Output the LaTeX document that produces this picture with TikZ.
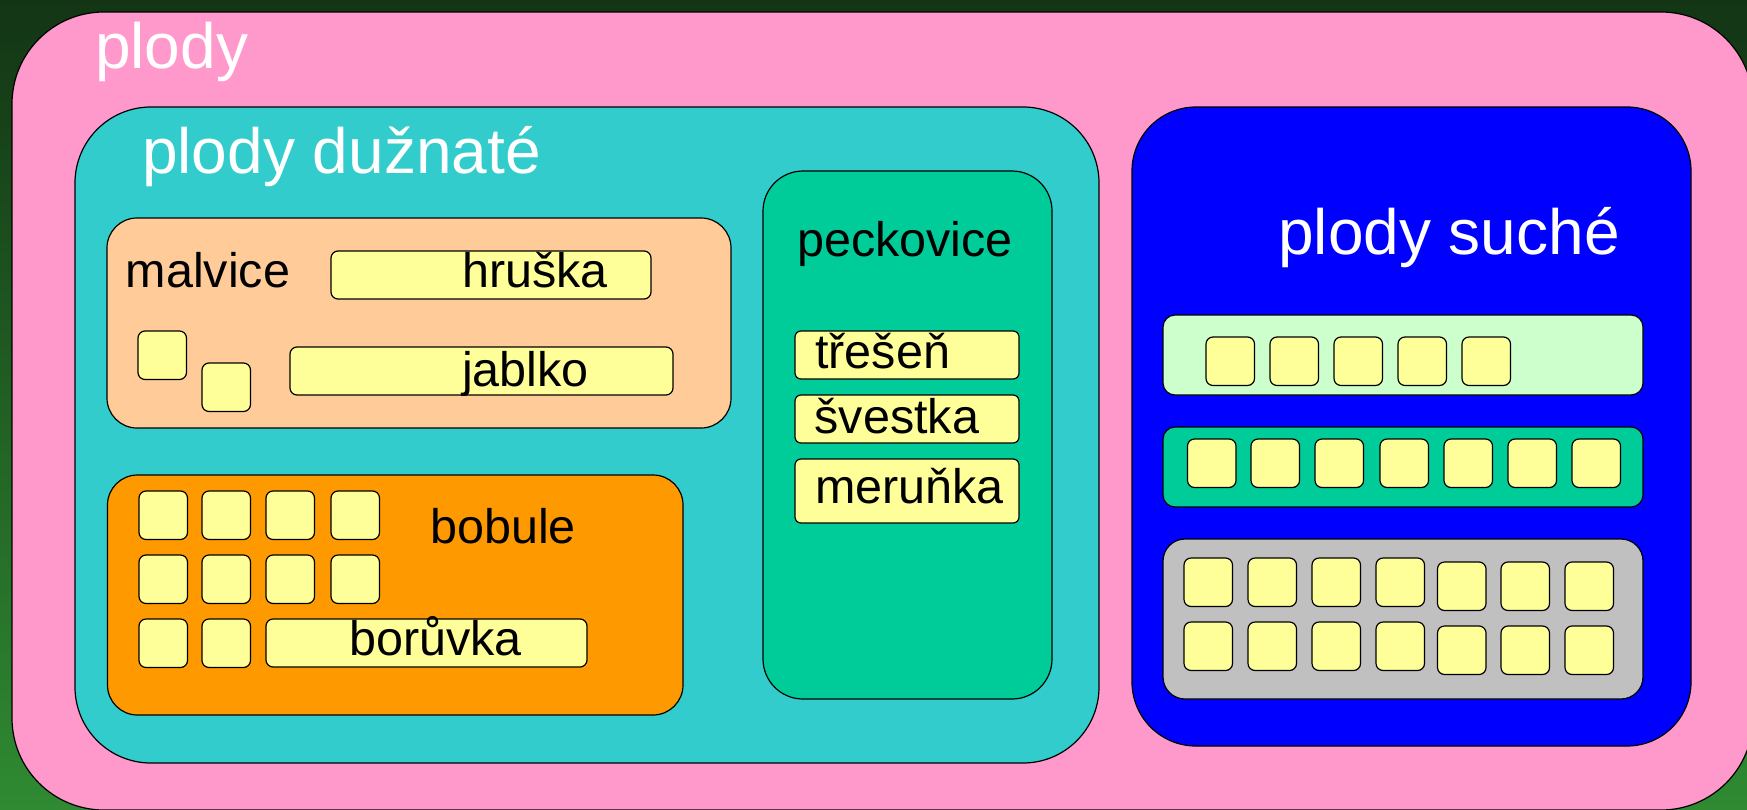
\documentclass[tikz,border=0pt]{standalone}
\usepackage{fontspec}
\setmainfont{Liberation Sans}

% palette
\definecolor{bgtop}{HTML}{133515}
\definecolor{bgbottom}{HTML}{2F8A32}
\definecolor{pinkfill}{HTML}{FF99CC}
\definecolor{tealfill}{HTML}{33CCCC}
\definecolor{bluefill}{HTML}{0000FF}
\definecolor{peachfill}{HTML}{FFCC99}
\definecolor{orangefill}{HTML}{FF9900}
\definecolor{stonefill}{HTML}{00CC99}
\definecolor{mintfill}{HTML}{CCFFCC}
\definecolor{grayfill}{HTML}{C0C0C0}
\definecolor{tilefill}{HTML}{FFFF99}

\begin{document}
\begin{tikzpicture}[x=1pt,y=-1pt,
  place/.style n args={4}{anchor=north west, at={(#1,#2)},
    minimum width=#3pt, minimum height=#4pt, inner sep=0pt, outer sep=0pt},
  panel/.style={draw=black, line width=1.2pt},
  tile/.style={panel, fill=tilefill, rounded corners=7pt},
  sq/.style 2 args={tile, place={#1}{#2}{48.5}{48.5}},
  bigtext/.style={anchor=base west, inner sep=0pt, text=white,
    font=\fontsize{64}{70}\selectfont},
  smalltext/.style={anchor=base west, inner sep=0pt, text=black,
    font=\fontsize{48.5}{54}\selectfont}]

\useasboundingbox (0,0) rectangle (1747,809);
\shade[top color=bgtop, bottom color=bgbottom] (0,0) rectangle (1747,809);

% outer frame
\node[panel, fill=pinkfill, rounded corners=92pt, place={12}{12}{1741}{798}] (fruits) {};
\node[bigtext] (tfruits) at (95,68) {plody};

% fleshy fruits
\node[panel, fill=tealfill, rounded corners=76pt, place={75}{107}{1024}{656}] (fleshy) {};
\node[bigtext] (tfleshy) at (142,173) {plody dužnaté};

% pomes
\node[panel, fill=peachfill, rounded corners=30pt, place={107}{218}{624}{210}] (pome) {};
\node[smalltext] (tpome) at (125.5,287) {malvice};
\node[tile, place={331}{251}{320}{48}] (pear) {};
\node[smalltext] (tpear) at (462,287) {hruška};
\node[tile, place={290}{347}{383}{48}] (apple) {};
\node[smalltext] (tapple) at (462,386) {jablko};
\node[sq={138}{331}] (pa) {};
\node[sq={202}{363}] (pb) {};

% berries
\node[panel, fill=orangefill, rounded corners=30pt, place={107.5}{475}{575.5}{240}] (berry) {};
\node[smalltext] (tberry) at (430,543) {bobule};
\foreach \c/\x in {1/139,2/202,3/266,4/331}{
  \node[sq={\x}{491}] (ba\c) {};
  \node[sq={\x}{555}] (bb\c) {};
}
\node[sq={139}{619}] (bc1) {};
\node[sq={202}{619}] (bc2) {};
\node[tile, place={266}{619}{321}{48}] (blueberry) {};
\node[smalltext] (tblueberry) at (349,655) {borůvka};

% drupes
\node[panel, fill=stonefill, rounded corners=40pt, place={763}{171}{289}{528}] (drupe) {};
\node[smalltext] (tdrupe) at (797,256) {peckovice};
\node[tile, rounded corners=6pt, place={795}{331}{224}{48}] (cherry) {};
\node[smalltext] (tcherry) at (815,368) {třešeň};
\node[tile, rounded corners=6pt, place={795}{395}{224}{48}] (plum) {};
\node[smalltext] (tplum) at (814.5,433) {švestka};
\node[tile, rounded corners=6pt, place={795}{459}{224}{64}] (apricot) {};
\node[smalltext] (tapricot) at (815,503) {meruňka};

% dry fruits
\node[panel, fill=bluefill, rounded corners=64pt, place={1132}{107}{559}{639}] (dry) {};
\node[bigtext] (tdry) at (1278,254) {plody suché};

\node[panel, fill=mintfill, rounded corners=12pt, place={1163}{315}{480}{80}] (rowa) {};
\foreach \c/\x in {1/1206,2/1270,3/1334,4/1398,5/1462}{
  \node[sq={\x}{337}] (ra\c) {};
}

\node[panel, fill=stonefill, rounded corners=12pt, place={1163}{427}{480}{80}] (rowb) {};
\foreach \c/\x in {1/1187.5,2/1251,3/1315,4/1380,5/1444,6/1508,7/1572}{
  \node[sq={\x}{439}] (rb\c) {};
}

\node[panel, fill=grayfill, rounded corners=22pt, place={1163}{539}{480}{160}] (rowc) {};
\foreach \c/\x in {1/1184,2/1248,3/1312,4/1376}{
  \node[sq={\x}{558}] (rc\c) {};
  \node[sq={\x}{622}] (rd\c) {};
}
\foreach \c/\x in {5/1437.5,6/1501,7/1565}{
  \node[sq={\x}{562}] (rc\c) {};
  \node[sq={\x}{626}] (rd\c) {};
}
\end{tikzpicture}
\end{document}
